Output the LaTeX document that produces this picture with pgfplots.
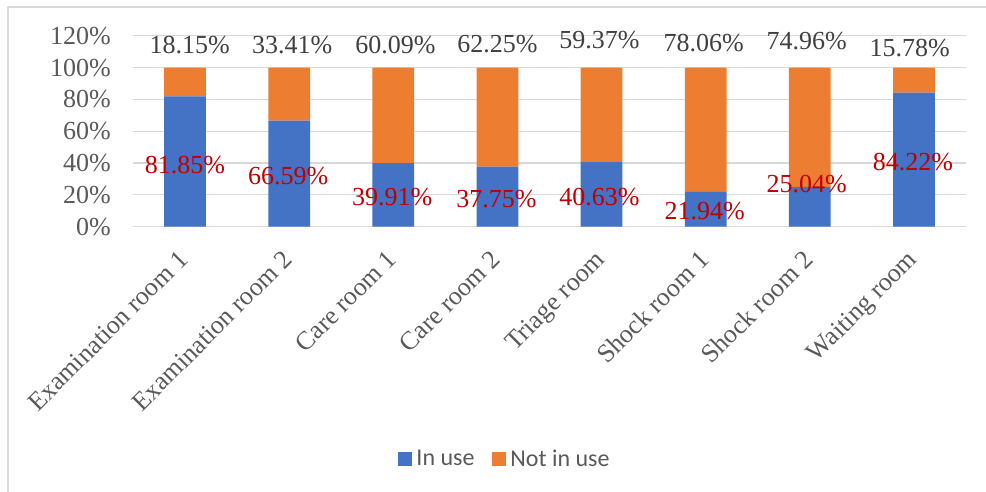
\documentclass[border=0pt]{standalone}
\usepackage{pgfplots}
\pgfplotsset{compat=1.18}
\usepackage{fontspec}
\setmainfont{Liberation Serif}
\newfontfamily\calibri{Carlito}
\definecolor{inuse}{HTML}{4472C4}
\definecolor{notuse}{HTML}{ED7D31}
\definecolor{redlab}{HTML}{C00000}
\definecolor{toplab}{HTML}{404040}
\definecolor{ticklab}{HTML}{595959}
\definecolor{gridc}{HTML}{D9D9D9}
\tikzset{lab/.style={font=\fontsize{26}{29}\selectfont, inner sep=0pt}}
\begin{document}
\begin{tikzpicture}
\useasboundingbox (0pt,0pt) rectangle (986pt,492pt);
\draw[gridc,line width=1.2pt] (8pt,0pt) -- (8pt,485pt) -- (986pt,485pt);
\begin{axis}[
  at={(133pt,265.3pt)}, anchor=south west,
  scale only axis, width=833pt, height=191pt,
  ybar stacked, bar width=0.4,
  xmin=-0.5, xmax=7.5, ymin=0, ymax=120,
  xtick={0,...,7},
  xticklabels={Examination room 1,Examination room 2,Care room 1,Care room 2,Triage room,Shock room 1,Shock room 2,Waiting room},
  ytick={0,20,...,120},
  yticklabel={\pgfmathprintnumber{\tick}\%},
  /pgf/number format/assume math mode=true,
  axis line style={draw=none},
  major tick length=0pt,
  ymajorgrids, grid style={gridc,line width=1.2pt},
  yticklabel style={font=\fontsize{26}{29}\selectfont, color=ticklab, anchor=east, inner sep=0pt, xshift=-22pt},
  xticklabel style={font=\fontsize{26}{29}\selectfont, color=ticklab, xshift=-8pt, yshift=-22pt, rotate=45, anchor=north east, inner sep=0pt},
  legend columns=2,
  legend style={at={(0.4466,-1.216)}, anchor=center, draw=none, fill=none,
    font=\calibri\fontsize{24}{27}\selectfont, text=ticklab,
    /tikz/every odd column/.append style={column sep=2pt},
    /tikz/every even column/.append style={column sep=16pt}},
  legend image code/.code={\fill[#1] (0pt,-7pt) rectangle (14pt,7pt);},
  clip=false,
]
\addplot[fill=inuse, draw=none] coordinates {(0,81.85) (1,66.59) (2,39.91) (3,37.75) (4,40.63) (5,21.94) (6,25.04) (7,84.22)};
\addplot[fill=notuse, draw=none] coordinates {(0,18.15) (1,33.41) (2,60.09) (3,62.25) (4,59.37) (5,78.06) (6,74.96) (7,15.78)};
\legend{In use,Not in use}
\coordinate (t0) at (axis cs:0.045,114.2);
\coordinate (t1) at (axis cs:1.03,114.2);
\coordinate (t2) at (axis cs:2.02,114.2);
\coordinate (t3) at (axis cs:3.0,114.6);
\coordinate (t4) at (axis cs:3.98,117.3);
\coordinate (t5) at (axis cs:4.98,115.6);
\coordinate (t6) at (axis cs:5.97,116.8);
\coordinate (t7) at (axis cs:6.96,112.5);
\coordinate (r0) at (axis cs:0,38.8);
\coordinate (r1) at (axis cs:0.99,31.9);
\coordinate (r2) at (axis cs:1.99,18.8);
\coordinate (r3) at (axis cs:2.99,17.2);
\coordinate (r4) at (axis cs:3.98,18.8);
\coordinate (r5) at (axis cs:4.99,9.9);
\coordinate (r6) at (axis cs:5.97,26.6);
\coordinate (r7) at (axis cs:6.99,40.8);
\end{axis}
\node[lab,toplab] at (t0) {18.15\%};
\node[lab,toplab] at (t1) {33.41\%};
\node[lab,toplab] at (t2) {60.09\%};
\node[lab,toplab] at (t3) {62.25\%};
\node[lab,toplab] at (t4) {59.37\%};
\node[lab,toplab] at (t5) {78.06\%};
\node[lab,toplab] at (t6) {74.96\%};
\node[lab,toplab] at (t7) {15.78\%};
\node[lab,redlab] at (r0) {81.85\%};
\node[lab,redlab] at (r1) {66.59\%};
\node[lab,redlab] at (r2) {39.91\%};
\node[lab,redlab] at (r3) {37.75\%};
\node[lab,redlab] at (r4) {40.63\%};
\node[lab,redlab] at (r5) {21.94\%};
\node[lab,redlab] at (r6) {25.04\%};
\node[lab,redlab] at (r7) {84.22\%};
\end{tikzpicture}
\end{document}
